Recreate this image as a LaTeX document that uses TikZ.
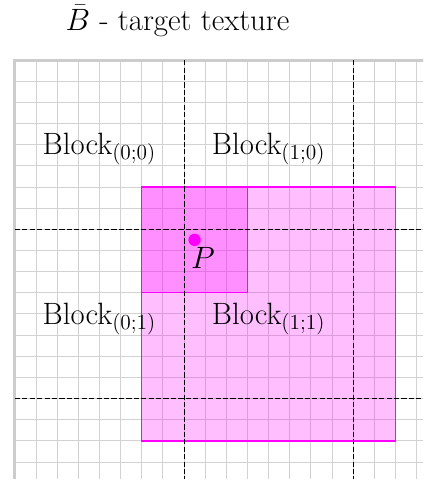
\documentclass[tikz,border=0pt]{standalone}
\usepackage{amsmath,amssymb}
\usetikzlibrary{positioning}

\definecolor{regionpink}{RGB}{255,0,255}
\tikzset{
    blocklabel/.style={anchor=base, font=\huge},
    region/.style={draw=regionpink, line width=1pt, fill=regionpink, fill opacity=0.25},
    splitline/.style={black, line width=0.5pt, dash pattern=on 3.5pt off 1.5pt}
}

\begin{document}
\begin{tikzpicture}[scale=0.5]
        \useasboundingbox (-0.7,2.84) rectangle (19.3,-19.9);
        \node (title) [anchor=base, font=\huge, inner sep=0pt] at (7.69,1.42) {$\bar{B}$ - target texture};

        \begin{scope}
            \clip (-0.7,0.5) rectangle (19.3,-19.76);
            \draw[step=1, color=gray!35, line width=0.6pt] (0,0) grid (20,-20);
            \draw[color=gray!40, line width=2pt] (0,-20) -- (0,0) -- (20,0);

            % read region and footprint of P
            \draw[region] (6,-6) rectangle (18,-18);
            \draw[region] (6,-6) rectangle (11,-11);

            % block borders
            \coordinate (vtop1) at (8,0); \coordinate (vbot1) at (8,-20);
            \coordinate (vtop2) at (16,0); \coordinate (vbot2) at (16,-20);
            \coordinate (hleft1) at (0,-8); \coordinate (hright1) at (20,-8);
            \coordinate (hleft2) at (0,-16); \coordinate (hright2) at (20,-16);
            \draw[splitline] (vtop1) -- (vbot1); \draw[splitline] (vtop2) -- (vbot2);
            \draw[splitline] (hleft1) -- (hright1); \draw[splitline] (hleft2) -- (hright2);
        \end{scope}

        \node (b00) [blocklabel] at (4,-4.46) {Block$_{(0;0)}$};
        \node (b10) [blocklabel] at (12,-4.46) {Block$_{(1;0)}$};
        \node (b01) [blocklabel] at (4,-12.5) {Block$_{(0;1)}$};
        \node (b11) [blocklabel] at (12,-12.5) {Block$_{(1;1)}$};

        \node (p) [circle, fill=regionpink, inner sep=0pt, minimum size=8.3pt] at (8.5,-8.5) {};
        \node (plabel) [font=\huge] at (8.9,-9.35) {$P$};
    \end{tikzpicture}
\end{document}
